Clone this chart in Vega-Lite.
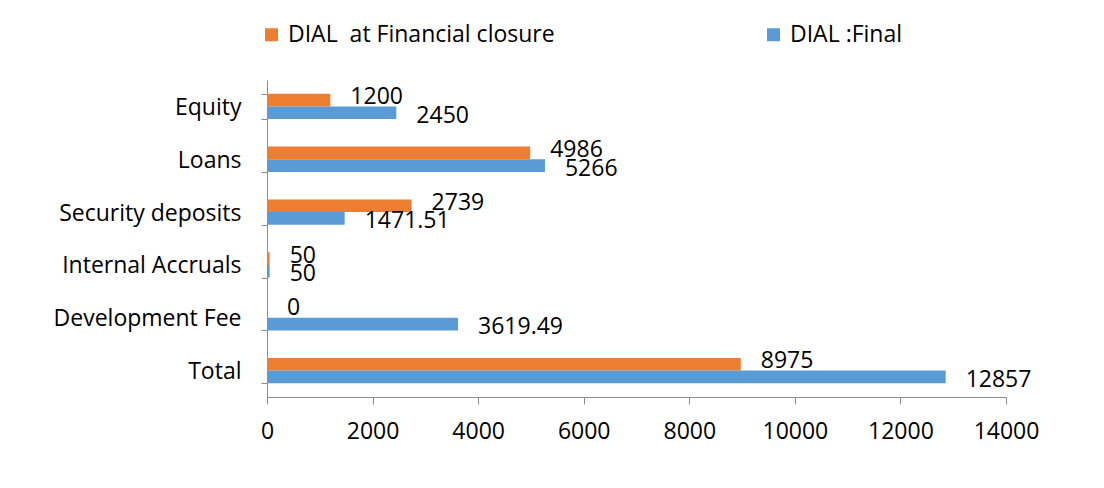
{
  "$schema": "https://vega.github.io/schema/vega-lite/v6.json",
  "width": 739,
  "height": 317,
  "autosize": {"type": "none"},
  "padding": {"left": 267, "top": 80, "right": 98, "bottom": 91},
  "background": "white",
  "config": {"font": "Open Sans", "view": {"stroke": null}},
  "data": {
    "values": [
      {"cat": "Equity", "series": "DIAL \u00a0at Financial closure", "value": 1200},
      {"cat": "Equity", "series": "DIAL :Final", "value": 2450},
      {"cat": "Loans", "series": "DIAL \u00a0at Financial closure", "value": 4986},
      {"cat": "Loans", "series": "DIAL :Final", "value": 5266},
      {"cat": "Security deposits", "series": "DIAL \u00a0at Financial closure", "value": 2739},
      {"cat": "Security deposits", "series": "DIAL :Final", "value": 1471.51},
      {"cat": "Internal Accruals", "series": "DIAL \u00a0at Financial closure", "value": 50},
      {"cat": "Internal Accruals", "series": "DIAL :Final", "value": 50},
      {"cat": "Development Fee", "series": "DIAL \u00a0at Financial closure", "value": 0},
      {"cat": "Development Fee", "series": "DIAL :Final", "value": 3619.49},
      {"cat": "Total", "series": "DIAL \u00a0at Financial closure", "value": 8975},
      {"cat": "Total", "series": "DIAL :Final", "value": 12857}
    ]
  },
  "encoding": {
    "y": {
      "field": "cat",
      "type": "nominal",
      "sort": ["Equity", "Loans", "Security deposits", "Internal Accruals", "Development Fee", "Total"],
      "scale": {"paddingInner": 0.52, "paddingOuter": 0.26},
      "axis": {
        "title": null,
        "tickBand": "extent",
        "labelFontSize": 23,
        "labelColor": "black",
        "domainColor": "#8c8c8c",
        "tickColor": "#8c8c8c",
        "tickSize": 6,
        "labelPadding": 20,
        "labelOffset": 1,
        "labelLimit": 400
      }
    },
    "yOffset": {
      "field": "series",
      "scale": {"domain": ["DIAL \u00a0at Financial closure", "DIAL :Final"]}
    },
    "x": {
      "field": "value",
      "type": "quantitative",
      "scale": {"domain": [0, 14000], "nice": false},
      "axis": {
        "title": null,
        "values": [0, 2000, 4000, 6000, 8000, 10000, 12000, 14000],
        "format": "d",
        "grid": false,
        "labelFlush": false,
        "labelOverlap": false,
        "labelFontSize": 23,
        "labelColor": "black",
        "domainColor": "#8c8c8c",
        "tickColor": "#8c8c8c",
        "tickSize": 7,
        "labelPadding": 16
      }
    }
  },
  "layer": [
    {
      "mark": {"type": "bar"},
      "encoding": {
        "color": {
          "field": "series",
          "type": "nominal",
          "scale": {"domain": ["DIAL \u00a0at Financial closure", "DIAL :Final"], "range": ["#ED7D31", "#5B9BD5"]},
          "legend": {
            "title": null,
            "orient": "none",
            "direction": "horizontal",
            "legendX": -7,
            "legendY": -57,
            "columnPadding": 207,
            "labelFontSize": 23,
            "labelLimit": 0,
            "labelColor": "black",
            "symbolType": "square",
            "symbolSize": 169,
            "symbolStrokeWidth": 0,
            "labelOffset": 5
          }
        }
      }
    },
    {
      "transform": [{"filter": "datum.series === 'DIAL \u00a0at Financial closure'"}],
      "mark": {"type": "text", "align": "left", "baseline": "middle", "dx": 20, "dy": -3, "fontSize": 23, "color": "black"},
      "encoding": {"text": {"field": "value", "type": "quantitative", "format": "~g"}}
    },
    {
      "transform": [{"filter": "datum.series === 'DIAL :Final'"}],
      "mark": {"type": "text", "align": "left", "baseline": "middle", "dx": 20, "dy": 3, "fontSize": 23, "color": "black"},
      "encoding": {"text": {"field": "value", "type": "quantitative", "format": "~g"}}
    }
  ]
}
